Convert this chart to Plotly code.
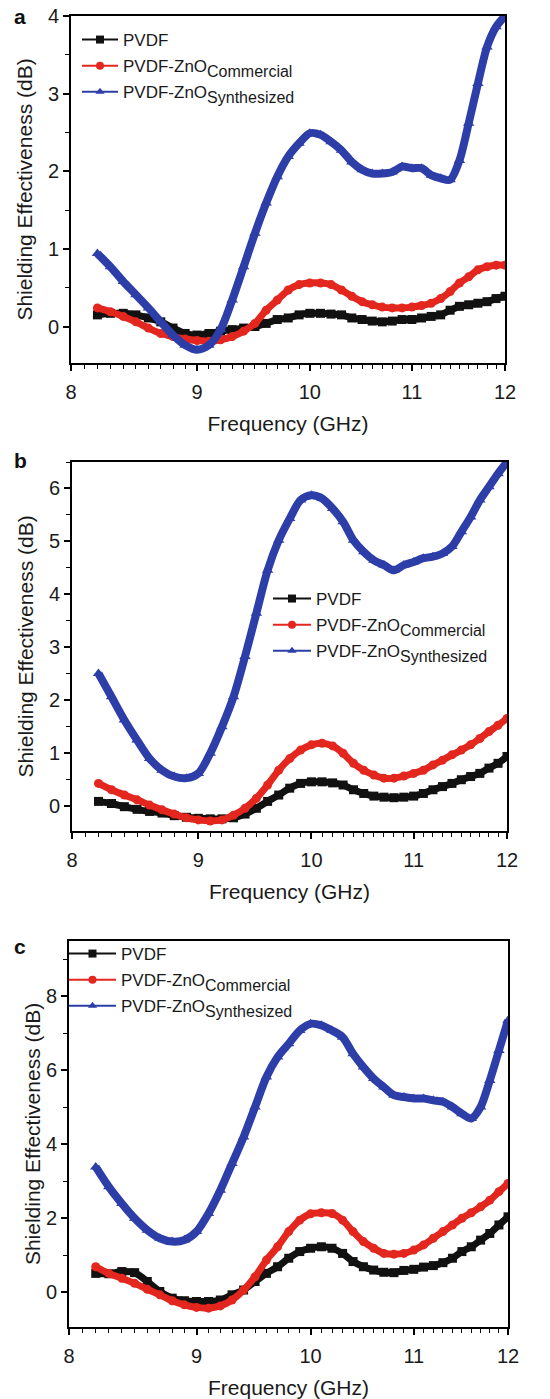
import plotly.graph_objects as go
import math

FREQ = [8.2, 8.3, 8.4, 8.5, 8.6, 8.7, 8.8, 8.9, 9.0, 9.1, 9.2, 9.3, 9.4, 9.5, 9.6, 9.7, 9.8, 9.9,
        10.0, 10.1, 10.2, 10.3, 10.4, 10.5, 10.6, 10.7, 10.8, 10.9, 11.0, 11.1, 11.2, 11.3, 11.4,
        11.5, 11.6, 11.7, 11.8, 11.9, 12.0]

# Panel a
A_PVDF = [0.15, 0.17, 0.17, 0.15, 0.11, 0.06, -0.02, -0.09, -0.11, -0.09, -0.06, -0.04, -0.02, 0.0,
          0.04, 0.09, 0.11, 0.15, 0.17, 0.17, 0.16, 0.15, 0.11, 0.09, 0.07, 0.06, 0.07, 0.09, 0.09,
          0.11, 0.13, 0.15, 0.21, 0.26, 0.28, 0.30, 0.32, 0.36, 0.39]
A_COMM = [0.24, 0.19, 0.13, 0.06, -0.02, -0.09, -0.13, -0.16, -0.18, -0.19, -0.17, -0.13, -0.06, 0.04,
          0.21, 0.34, 0.47, 0.54, 0.56, 0.56, 0.54, 0.47, 0.39, 0.32, 0.28, 0.25, 0.24, 0.24, 0.25,
          0.27, 0.30, 0.36, 0.45, 0.56, 0.64, 0.73, 0.77, 0.79, 0.79]
A_SYN = [0.94, 0.77, 0.58, 0.41, 0.24, 0.06, -0.11, -0.24, -0.30, -0.24, -0.04, 0.34, 0.77, 1.20,
         1.59, 1.93, 2.19, 2.36, 2.49, 2.47, 2.38, 2.27, 2.12, 2.02, 1.97, 1.97, 1.99, 2.06, 2.04,
         2.04, 1.95, 1.91, 1.89, 2.14, 2.62, 3.13, 3.60, 3.86, 4.00]

# Panel b
B_PVDF = [0.08, 0.04, -0.02, -0.07, -0.11, -0.14, -0.19, -0.22, -0.24, -0.25, -0.25, -0.23, -0.16,
          -0.05, 0.08, 0.20, 0.33, 0.42, 0.45, 0.45, 0.43, 0.39, 0.30, 0.23, 0.18, 0.16, 0.15, 0.16,
          0.18, 0.23, 0.30, 0.36, 0.42, 0.49, 0.55, 0.61, 0.71, 0.80, 0.93]
B_COMM = [0.42, 0.30, 0.20, 0.11, 0.01, -0.08, -0.16, -0.23, -0.27, -0.29, -0.27, -0.18, -0.05, 0.14,
          0.39, 0.67, 0.89, 1.05, 1.15, 1.18, 1.13, 0.99, 0.80, 0.67, 0.58, 0.52, 0.52, 0.56, 0.61,
          0.67, 0.77, 0.86, 0.96, 1.05, 1.15, 1.27, 1.40, 1.52, 1.65]
B_SYN = [2.50, 2.06, 1.62, 1.24, 0.89, 0.67, 0.55, 0.52, 0.61, 0.99, 1.49, 2.06, 2.82, 3.64, 4.45,
         5.02, 5.43, 5.78, 5.87, 5.81, 5.62, 5.37, 5.02, 4.80, 4.64, 4.55, 4.45, 4.55, 4.61, 4.68,
         4.71, 4.77, 4.90, 5.18, 5.46, 5.78, 6.03, 6.28, 6.50]

# Panel c
C_PVDF = [0.51, 0.50, 0.56, 0.53, 0.29, 0.02, -0.16, -0.23, -0.25, -0.25, -0.21, -0.07, 0.06, 0.29,
          0.51, 0.69, 0.92, 1.10, 1.19, 1.23, 1.19, 1.05, 0.83, 0.69, 0.60, 0.54, 0.53, 0.59, 0.62,
          0.68, 0.72, 0.80, 0.92, 1.10, 1.23, 1.41, 1.59, 1.82, 2.04]
C_COMM = [0.69, 0.51, 0.38, 0.24, 0.08, -0.07, -0.23, -0.34, -0.41, -0.43, -0.37, -0.21, 0.06, 0.42,
          0.87, 1.23, 1.64, 1.95, 2.12, 2.15, 2.13, 1.95, 1.64, 1.37, 1.19, 1.05, 1.03, 1.05, 1.14,
          1.28, 1.46, 1.64, 1.82, 2.00, 2.15, 2.31, 2.49, 2.72, 2.94]
C_SYN = [3.39, 2.85, 2.40, 2.00, 1.68, 1.46, 1.37, 1.41, 1.64, 2.13, 2.76, 3.48, 4.20, 5.01, 5.82,
         6.36, 6.72, 7.08, 7.26, 7.22, 7.08, 6.90, 6.45, 6.09, 5.78, 5.55, 5.33, 5.28, 5.24, 5.24,
         5.19, 5.15, 5.01, 4.83, 4.70, 5.01, 5.73, 6.54, 7.35]

SERIES_NAMES = ["PVDF",
                "PVDF-ZnO<span style='baseline-shift:-5px;font-size:16px'>Commercial</span>",
                "PVDF-ZnO<span style='baseline-shift:-5px;font-size:16px'>Synthesized</span>"]
X_TICKS = [8, 9, 10, 11, 12]
X_TICKTEXT = ["8", "9", "10", "11", "12"]
PANEL_LABELS = ["a", "b", "c"]

COLORS = ["#111111", "#e3261e", "#2d3ea8"]
SYMBOLS = ["square", "circle", "triangle-up"]
WIDTHS = [7, 7, 8]
FONT = "Liberation Sans, Arial, sans-serif"

W, H = 550, 1399
panels = [
    dict(data=[A_PVDF, A_COMM, A_SYN], xpx=(71, 505), ypx=(16, 363), yr=[-0.47, 4.0],
         dtick=1, minor=0.5, leg=(77, 22), iw=36, ystand=10, lab=(20, 17)),
    dict(data=[B_PVDF, B_COMM, B_SYN], xpx=(72, 507), ypx=(462, 831), yr=[-0.48, 6.5],
         dtick=1, minor=0.5, leg=(268, 581), iw=38, ystand=10, lab=(20, 461)),
    dict(data=[C_PVDF, C_COMM, C_SYN], xpx=(69, 508), ypx=(941, 1327), yr=[-0.94, 9.5],
         dtick=2, minor=1, leg=(64, 936), iw=47, ystand=0, lab=(20, 946)),
]

minor_x = [round(8 + 0.1 * i, 1) for i in range(41)]

fig = go.Figure()
layout = dict(width=W, height=H, margin=dict(l=0, r=0, t=0, b=0),
              paper_bgcolor="white", plot_bgcolor="white", showlegend=True,
              font=dict(family=FONT, color="#1a1a1a"))
annotations = []

for i, p in enumerate(panels):
    k = "" if i == 0 else str(i + 1)
    xa, ya = "x" + k, "y" + k
    leg = "legend" + k
    for j in range(3):
        fig.add_trace(go.Scatter(
            x=FREQ, y=p["data"][j], mode="lines+markers", xaxis=xa, yaxis=ya,
            line=dict(color=COLORS[j], width=WIDTHS[j], shape="spline", smoothing=0.8),
            marker=dict(symbol=SYMBOLS[j], size=9 if j < 2 else 10, color=COLORS[j]),
            showlegend=False, hoverinfo="x+y"))
    for j in range(3):
        fig.add_trace(go.Scatter(
            x=[None], y=[None], mode="lines+markers", xaxis=xa, yaxis=ya,
            name=SERIES_NAMES[j], legend=leg, legendgroup=f"g{i}{j}",
            line=dict(color=COLORS[j], width=2),
            marker=dict(symbol=SYMBOLS[j], size=8, color=COLORS[j])))
    x0, x1 = p["xpx"]
    y0, y1 = p["ypx"]
    layout["xaxis" + k] = dict(
        type="log", range=[math.log10(8), math.log10(12)],
        domain=[x0 / W, x1 / W], anchor=ya,
        tickvals=X_TICKS, ticktext=X_TICKTEXT, ticks="outside", ticklen=6, tickwidth=1.5,
        tickcolor="black", showline=True, linewidth=2, linecolor="black", mirror=True,
        showgrid=False, zeroline=False, ticklabelstandoff=4,
        minor=dict(tickvals=minor_x, ticks="outside", ticklen=4, tickwidth=1.2, tickcolor="black",
                   showgrid=False),
        tickfont=dict(size=20, family=FONT, color="#1a1a1a"),
        title=dict(text="Frequency (GHz)", font=dict(size=21, family=FONT, color="#1a1a1a"),
                   standoff=14),
        automargin=False)
    layout["yaxis" + k] = dict(
        range=p["yr"], domain=[1 - y1 / H, 1 - y0 / H], anchor=xa,
        dtick=p["dtick"], tick0=0, ticks="outside", ticklen=6, tickwidth=1.5, tickcolor="black",
        showline=True, linewidth=2, linecolor="black", mirror=True,
        showgrid=False, zeroline=False,
        minor=dict(dtick=p["minor"], ticks="outside", ticklen=4, tickwidth=1.2, tickcolor="black",
                   showgrid=False),
        tickfont=dict(size=20, family=FONT, color="#1a1a1a"),
        title=dict(text="Shielding Effectiveness (dB)",
                   font=dict(size=21, family=FONT, color="#1a1a1a"), standoff=p["ystand"]),
        automargin=False)
    lx, ly = p["leg"]
    layout[leg] = dict(x=lx / W, y=1 - ly / H, xanchor="left", yanchor="top",
                       bgcolor="rgba(0,0,0,0)", borderwidth=0, tracegroupgap=1,
                       font=dict(size=17, family=FONT, color="#1a1a1a"), itemwidth=p["iw"])
    lbx, lby = p["lab"]
    annotations.append(dict(text="<b>" + PANEL_LABELS[i] + "</b>", xref="paper", yref="paper",
                            x=lbx / W, y=1 - lby / H, xanchor="center", yanchor="middle",
                            showarrow=False, font=dict(size=21, family=FONT, color="#111111")))

layout["annotations"] = annotations
fig.update_layout(**layout)
fig.write_html("out.html")
